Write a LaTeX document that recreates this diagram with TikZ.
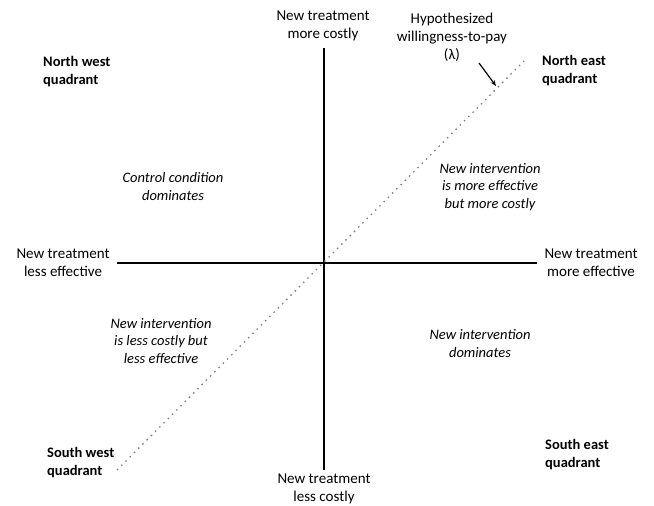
\documentclass[tikz,border=0pt]{standalone}
\usepackage{fontspec}
\setmainfont{Carlito}
\usetikzlibrary{arrows.meta}

\begin{document}
\begin{tikzpicture}[x=1pt,y=-1pt,
  axlabel/.style={align=center, inner sep=0pt, font=\fontsize{15}{18}\selectfont},
  quadlabel/.style={align=left, anchor=west, inner sep=0pt, font=\fontsize{14.5}{18}\selectfont\bfseries},
  note/.style={align=center, inner sep=0pt, font=\fontsize{14.5}{17.5}\selectfont\itshape}]
  \useasboundingbox (0,0) rectangle (654,506);
  % axes
  \coordinate (top) at (324,48);
  \coordinate (bottom) at (324,470);
  \coordinate (left) at (117,263);
  \coordinate (right) at (537,263);
  \draw[line width=2.6pt] (left) -- (right);
  \draw[line width=2.6pt] (top) -- (bottom);
  % threshold line
  \coordinate (sw) at (117,470);
  \coordinate (ne) at (524,61);
  \draw[gray, line width=1.3pt, dash pattern=on 1.5pt off 4.5pt] (sw) -- (ne);
  % axis labels
  \node[axlabel] (costly) at (323,26) {New treatment\\more costly};
  \node[axlabel] (cheap) at (324,488.5) {New treatment\\less costly};
  \node[axlabel] (worse) at (63,262.5) {New treatment\\less effective};
  \node[axlabel] (better) at (591,262.5) {New treatment\\more effective};
  % quadrants
  \node[quadlabel] (nw) at (43,72) {North west\\quadrant};
  \node[quadlabel] (neq) at (542,71) {North east\\quadrant};
  \node[quadlabel] (swq) at (47,463) {South west\\quadrant};
  \node[quadlabel] (seq) at (545,455) {South east\\quadrant};
  % notes
  \node[note] (ctrl) at (173,186.5) {Control condition\\dominates};
  \node[note] (moreeff) at (490,187) {New intervention\\is more effective\\but more costly};
  \node[note] (lesscost) at (161,341) {New intervention\\is less costly but\\less effective};
  \node[note] (newdom) at (480,343.5) {New intervention\\dominates};
  % willingness-to-pay
  \node[axlabel] (wtp) at (452,37) {Hypothesized\\willingness-to-pay\\(λ)};
  \coordinate (tail) at (479,63);
  \coordinate (tip) at (496,86);
  \draw[line width=1.2pt, -{Stealth[length=6pt,width=4.5pt]}] (tail) -- (tip);
\end{tikzpicture}
\end{document}
